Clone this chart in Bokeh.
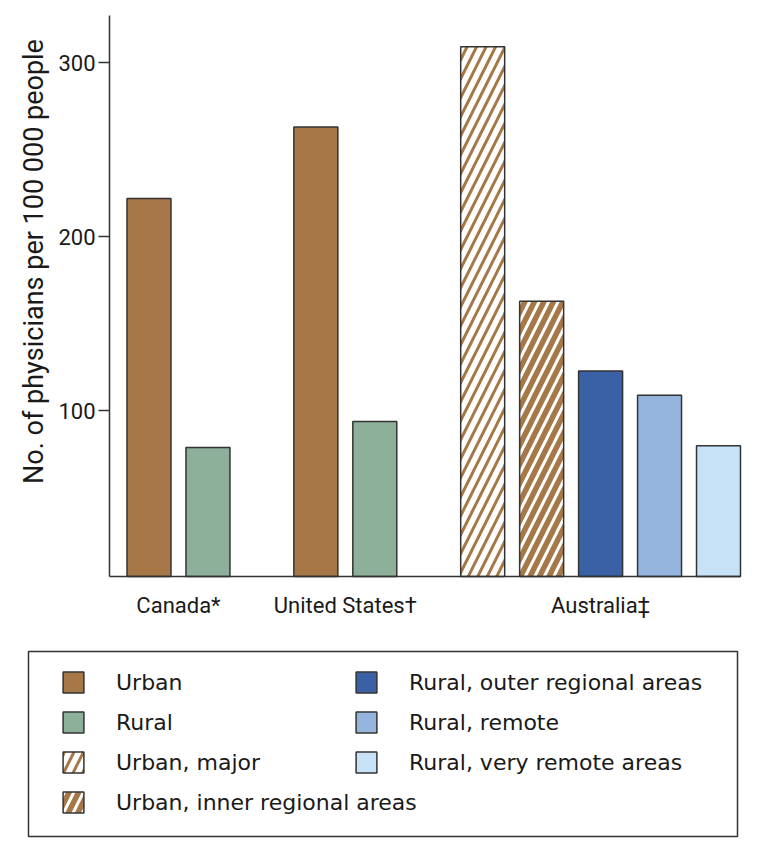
import math
from bokeh.plotting import figure
from bokeh.models import (Range1d, FixedTicker, Legend, LegendItem, Label,
                          BoxAnnotation, ColumnDataSource)
from bokeh.core.properties import value
from bokeh.embed import file_html
from bokeh.resources import INLINE

# ---------------- data ----------------
groups = ["Canada*", "United States\u2020", "Australia\u2021"]
canada_series = ["Urban", "Rural"]
canada_values = [222, 79]
us_series = ["Urban", "Rural"]
us_values = [263, 94]
australia_series = ["Urban, major", "Urban, inner regional areas",
                    "Rural, outer regional areas", "Rural, remote",
                    "Rural, very remote areas"]
australia_values = [309, 163, 123, 109, 80]
y_ticks = [100, 200, 300]
y_title = "No. of physicians per 100 000 people"
legend_col1 = ["Urban", "Rural", "Urban, major", "Urban, inner regional areas"]
legend_col2 = ["Rural, outer regional areas", "Rural, remote", "Rural, very remote areas"]

# ---------------- styles ----------------
BROWN = "#A67848"
GREEN = "#8DB09B"
DBLUE = "#3A60A5"
MBLUE = "#95B5DF"
LBLUE = "#C7E2F6"
LINE = "#333333"
TEXT = "#1a1a1a"

hatch_common = dict(hatch_pattern=value("/"), hatch_scale=19, hatch_weight=3)
styles = {
    "Urban": dict(fill_color=BROWN),
    "Rural": dict(fill_color=GREEN),
    "Urban, major": dict(fill_color="white", hatch_color=BROWN, **hatch_common),
    "Urban, inner regional areas": dict(fill_color=BROWN, hatch_color="white", **hatch_common),
    "Rural, outer regional areas": dict(fill_color=DBLUE),
    "Rural, remote": dict(fill_color=MBLUE),
    "Rural, very remote areas": dict(fill_color=LBLUE),
}

# ---------------- positions (computed) ----------------
GAP = 1.83
BAR_W = 0.746
bars = {}
group_centers = []
start = 0.0
for g, ser, vals in zip(groups, [canada_series, us_series, australia_series],
                        [canada_values, us_values, australia_values]):
    xs = [start + i for i in range(len(ser))]
    group_centers.append((xs[0] + xs[-1]) / 2)
    for s, v, x in zip(ser, vals, xs):
        bars.setdefault(s, {"x": [], "top": []})
        bars[s]["x"].append(x)
        bars[s]["top"].append(v)
    start = xs[-1] + GAP
last_x = start - GAP

# axis extents (data units) and page geometry (pixels)
X_AX0, X_AX1 = -0.67, last_x + BAR_W / 2
Y_AX0, Y_AX1 = 5, 327
FR_L, FR_R, FR_T, FR_B = 8, 748, 5, 845          # frame on page
AX_L, AX_R, AX_T, AX_B = 109, 740, 15, 576       # chart axes on page
ux = (AX_R - AX_L) / (X_AX1 - X_AX0)
uy = (AX_B - AX_T) / (Y_AX1 - Y_AX0)
x_start = X_AX0 - (AX_L - FR_L) / ux
x_end = X_AX1 + (FR_R - AX_R) / ux
y_start = Y_AX0 - (FR_B - AX_B) / uy
y_end = Y_AX1 + (AX_T - FR_T) / uy

def dx(px):  # page x -> data x
    return x_start + (px - FR_L) / ux

def dy(py):  # page y -> data y
    return y_start + (FR_B - py) / uy

# ---------------- chart ----------------
p = figure(frame_width=FR_R - FR_L, frame_height=FR_B - FR_T,
           min_border_left=FR_L, min_border_right=0, min_border_top=FR_T, min_border_bottom=0,
           x_range=Range1d(x_start, x_end), y_range=Range1d(y_start, y_end),
           output_backend="svg", toolbar_location=None)
p.xgrid.visible = False
p.ygrid.visible = False
p.outline_line_color = None

rends = {}
for s, d in bars.items():
    rends[s] = p.vbar(x="x", top="top", bottom=Y_AX0, width=BAR_W, source=ColumnDataSource(d),
                      line_color=LINE, line_width=1.5, **styles[s])

p.yaxis.fixed_location = X_AX0
p.yaxis.bounds = (Y_AX0, Y_AX1)
p.yaxis.ticker = FixedTicker(ticks=y_ticks)
p.yaxis.major_tick_out = 11
p.yaxis.major_tick_in = 0
p.yaxis.minor_tick_out = 0
p.yaxis.minor_tick_in = 0
p.yaxis.major_label_standoff = 3
p.yaxis.major_label_text_font = "Roboto"
p.yaxis.major_label_text_font_size = "22px"
p.yaxis.major_label_text_color = TEXT

p.xaxis.fixed_location = Y_AX0
p.xaxis.bounds = (X_AX0, X_AX1)
p.xaxis.ticker = FixedTicker(ticks=group_centers)
p.xaxis.major_label_overrides = {c: g for c, g in zip(group_centers, groups)}
p.xaxis.major_tick_out = 0
p.xaxis.major_tick_in = 0
p.xaxis.minor_tick_out = 0
p.xaxis.minor_tick_in = 0
p.xaxis.major_label_standoff = 16
p.xaxis.major_label_text_font = "Roboto"
p.xaxis.major_label_text_font_size = "22px"
p.xaxis.major_label_text_color = TEXT

for ax in (p.xaxis, p.yaxis):
    ax.axis_line_color = LINE
    ax.axis_line_width = 1.5
    ax.major_tick_line_color = LINE
    ax.major_tick_line_width = 1.5

p.add_layout(Label(x=dx(33), y=dy(261), text=y_title, angle=math.pi / 2,
                   text_align="center", text_baseline="middle", text_font="Roboto",
                   text_font_size="27px", text_color=TEXT))

# ---------------- legend ----------------
p.add_layout(BoxAnnotation(left=dx(28), right=dx(737), top=dy(651), bottom=dy(836),
                           fill_alpha=0, line_color=LINE, line_width=1.5, line_alpha=1))

def make_legend(names, page_left, page_bottom):
    return Legend(items=[LegendItem(label=n, renderers=[rends[n]]) for n in names],
                  location=(page_left - FR_L, FR_B - page_bottom),
                  orientation="vertical", padding=0, margin=0,
                  glyph_width=26, glyph_height=26, label_height=26,
                  label_standoff=30, spacing=14,
                  border_line_alpha=0, background_fill_alpha=0,
                  label_text_font="DejaVu Sans", label_text_font_size="22px",
                  label_text_color=TEXT)

p.add_layout(make_legend(legend_col1, 60, 815), "center")
p.add_layout(make_legend(legend_col2, 353, 775), "center")

open("out.html", "w").write(file_html(p, INLINE))
